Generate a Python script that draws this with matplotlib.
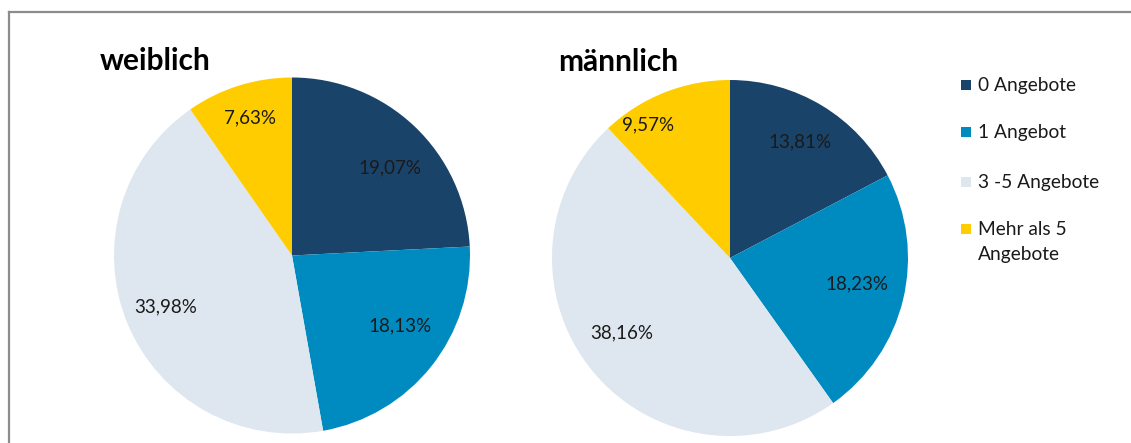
import matplotlib
matplotlib.use("Agg")
import matplotlib.pyplot as plt
from matplotlib.lines import Line2D
from matplotlib.patches import Rectangle
import numpy as np

categories = ["0 Angebote", "1 Angebot", "3 -5 Angebote", "Mehr als 5\nAngebote"]
weiblich = [19.07, 18.13, 33.98, 7.63]
maennlich = [13.81, 18.23, 38.16, 9.57]
titles = ["weiblich", "männlich"]
colors = ["#1A4369", "#008BC0", "#DEE6EF", "#FFCC00"]

W, H = 1131, 443
fig = plt.figure(figsize=(W / 100, H / 100), dpi=100)
ax = fig.add_axes([0, 0, 1, 1])

font = ["Lato", "DejaVu Sans"]
centers = [(292, H - 255.5), (730, H - 258)]
radius = 178
# label placement: fraction of radius and angular offset (deg, clockwise positive)
label_dist = [[0.74, 0.725, 0.765, 0.81], [0.76, 0.73, 0.74, 0.88]]
label_shift = [[4.5, -5.5, 0.3, 0.5], [0.0, -2.0, 4.5, -10.0]]
title_pos = [(100, H - 70), (558, H - 71)]

for i, (vals, c, title) in enumerate(zip([weiblich, maennlich], centers, titles)):
    wedges, _ = ax.pie(vals, colors=colors, startangle=90, counterclock=False,
                       center=c, radius=radius, frame=True,
                       wedgeprops=dict(linewidth=0))
    for j, (w, v) in enumerate(zip(wedges, vals)):
        mid = np.deg2rad((w.theta1 + w.theta2) / 2 - label_shift[i][j])
        d = label_dist[i][j] * radius
        x = c[0] + d * np.cos(mid)
        y = c[1] + d * np.sin(mid)
        ax.text(x, y, f"{v:.2f}%".replace(".", ","), ha="center", va="center",
                fontsize=13.5, family=font, color="#1a1a1a")
    ax.text(title_pos[i][0], title_pos[i][1], title, fontsize=21.5, fontweight="bold",
            family=font, ha="left", va="baseline", color="#000000")

# legend (manual, square aligned with first text line)
leg_base = [91, 138, 188, 235]
line_gap = 25
for k, (lab, col) in enumerate(zip(categories, colors)):
    yb = H - leg_base[k]
    ax.add_patch(Rectangle((961, yb + 1), 10, 10, facecolor=col, edgecolor="none"))
    for li, line in enumerate(lab.split("\n")):
        ax.text(978, yb - li * line_gap, line, fontsize=13.8, family=font,
                color="#1a1a1a", ha="left", va="baseline")

ax.set_xlim(0, W)
ax.set_ylim(0, H)
ax.set_aspect("equal")
ax.axis("off")

fig.add_artist(Line2D([9 / W, 1], [1 - 12 / H, 1 - 12 / H], color="#8c8c8c", lw=1.6,
                      transform=fig.transFigure))
fig.add_artist(Line2D([9 / W, 9 / W], [0, 1 - 12 / H], color="#8c8c8c", lw=1.6,
                      transform=fig.transFigure))

fig.savefig("out.png", dpi=100)
